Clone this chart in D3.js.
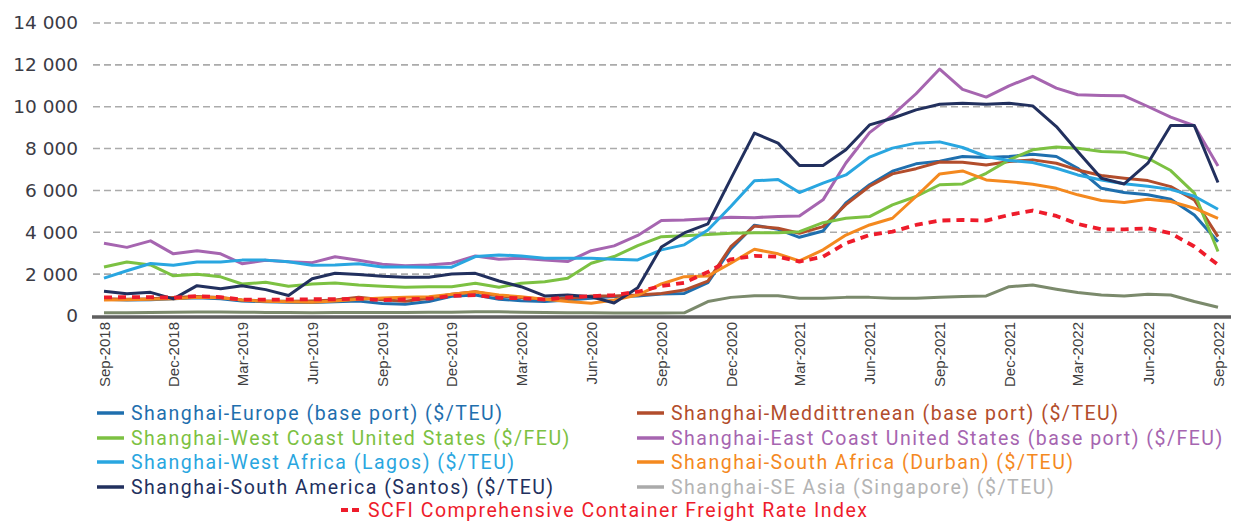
<!DOCTYPE html>
<html>
<head>
<meta charset="utf-8">
<script src="https://cdn.jsdelivr.net/npm/d3@7"></script>
<style>
  body { margin: 0; background: #fff; }
  svg { display: block; }
</style>
</head>
<body>
<div id="chart"></div>
<script>
// monthly, Sep-2018 .. Sep-2022
var months = d3.timeMonths(new Date(2018, 8, 1), new Date(2022, 9, 1));

var europe = [800,760,780,820,870,820,720,680,660,650,680,720,600,560,690,940,1000,800,730,690,770,850,930,960,1050,1080,1590,3190,4340,4140,3760,4060,5400,6270,6920,7270,7400,7620,7570,7620,7730,7620,7060,6100,5900,5790,5580,4830,3550];
var med = [820,800,820,880,930,880,760,720,700,720,760,900,780,700,850,1040,1160,960,880,800,850,960,960,1000,1080,1240,1670,3310,4300,4190,3950,4270,5320,6200,6790,7040,7360,7350,7220,7380,7460,7300,6980,6710,6580,6470,6180,5550,3790];
var westCoastUS = [2340,2580,2440,1920,2000,1870,1530,1610,1420,1530,1580,1480,1420,1370,1400,1400,1560,1370,1560,1640,1800,2520,2840,3360,3790,3830,3900,3950,3980,3980,4030,4460,4670,4750,5310,5710,6270,6310,6820,7460,7940,8070,8020,7860,7830,7540,6950,5870,3080];
var eastCoastUS = [3480,3280,3590,2970,3120,2970,2500,2660,2590,2550,2830,2660,2470,2400,2440,2520,2870,2710,2760,2680,2600,3120,3350,3850,4560,4590,4650,4720,4700,4760,4780,5550,7310,8760,9600,10620,11800,10830,10460,11000,11450,10890,10570,10540,10520,10010,9500,9090,7170];
var westAfrica = [1810,2160,2510,2420,2580,2580,2670,2670,2590,2420,2440,2500,2340,2340,2330,2330,2840,2920,2870,2760,2760,2760,2710,2680,3160,3400,4110,5230,6460,6520,5900,6350,6740,7590,8020,8260,8320,8050,7620,7430,7330,7060,6740,6500,6320,6200,6050,5720,5100];
var southAfrica = [760,780,800,830,900,870,760,700,680,660,720,800,860,890,925,1040,1160,1000,925,800,690,605,765,1000,1530,1880,1910,2520,3190,2970,2630,3160,3870,4350,4670,5710,6790,6930,6500,6420,6300,6100,5790,5520,5420,5580,5470,5150,4670];
var southAmerica = [1180,1060,1130,820,1450,1300,1450,1260,980,1780,2040,1980,1900,1850,1850,2010,2040,1670,1400,960,1000,920,620,1350,3300,3970,4400,6550,8740,8260,7190,7190,7940,9130,9450,9850,10120,10170,10120,10170,10040,9050,7860,6580,6310,7300,9100,9100,6380];
var seAsia = [150,160,170,180,190,190,180,170,170,160,170,170,170,170,180,180,200,200,180,170,160,150,140,140,140,150,690,890,970,970,850,850,890,890,850,850,890,930,960,1400,1480,1280,1120,1000,960,1040,1000,690,415];
var scfi = [890,900,900,880,950,900,780,780,790,800,800,830,760,800,830,960,1000,870,850,780,890,950,1000,1160,1430,1590,2100,2710,2870,2830,2600,2830,3480,3870,4030,4350,4560,4590,4560,4830,5040,4780,4400,4140,4140,4190,3950,3320,2450];

var seriesNames = [
  "Shanghai-Europe (base port) ($/TEU)",
  "Shanghai-Meddittrenean (base port) ($/TEU)",
  "Shanghai-West Coast United States ($/FEU)",
  "Shanghai-East Coast United States (base port) ($/FEU)",
  "Shanghai-West Africa (Lagos) ($/TEU)",
  "Shanghai-South Africa (Durban) ($/TEU)",
  "Shanghai-South America (Santos) ($/TEU)",
  "Shanghai-SE Asia (Singapore) ($/TEU)",
  "SCFI Comprehensive Container Freight Rate Index"
];
var seriesValues = [europe, med, westCoastUS, eastCoastUS, westAfrica, southAfrica, southAmerica, seAsia, scfi];
var lineColors = ["#1f6fae", "#b24d2c", "#7cc142", "#a665b0", "#29a6e0", "#f4891f", "#22305e", "#7b8a6c", "#ee1c2b"];
var legendColors = ["#1f6fae", "#b24d2c", "#7cc142", "#a665b0", "#29a6e0", "#f4891f", "#22305e", "#aaaaaa", "#ee1c2b"];
var legendTextColors = ["#1f6fae", "#b24d2c", "#7cc142", "#a665b0", "#29a6e0", "#f4891f", "#22305e", "#b4b4b4", "#ee1c2b"];

var yTicks = [0, 2000, 4000, 6000, 8000, 10000, 12000, 14000];

var width = 1235, height = 522;

var svg = d3.select("#chart").append("svg")
  .attr("width", width)
  .attr("height", height);

var x = d3.scaleTime()
  .domain([months[0], months[months.length - 1]])
  .range([104, 1218]);

var y = d3.scaleLinear().domain([0, 14000]).range([316, 23]);

var fmt = d3.formatLocale({ decimal: ".", thousands: " ", grouping: [3], currency: ["", ""] }).format(",");

// gridlines
svg.append("g")
  .selectAll("line")
  .data(yTicks.filter(function (d) { return d > 0; }))
  .enter()
  .append("line")
  .attr("x1", 93)
  .attr("x2", 1231)
  .attr("y1", function (d) { return y(d); })
  .attr("y2", function (d) { return y(d); })
  .style("stroke", "#ababab")
  .style("stroke-width", 1.6)
  .style("stroke-dasharray", "7,4");

// y labels
var yAxis = svg.append("g")
  .attr("transform", "translate(78,0)")
  .call(d3.axisLeft(y).tickValues(yTicks).tickFormat(fmt).tickSize(0).tickPadding(0));
yAxis.select(".domain").remove();
yAxis.selectAll("text")
  .style("font-family", "'DejaVu Sans', sans-serif")
  .style("font-size", "18.5px")
  .style("fill", "#3b3b45");

// baseline
svg.append("line")
  .attr("x1", 92).attr("x2", 1231)
  .attr("y1", y(0) + 1).attr("y2", y(0) + 1)
  .style("stroke", "#5f5f5f")
  .style("stroke-width", 3.5);

// x labels, every 3 months
var xTicks = months.filter(function (d, i) { return i % 3 == 0; });
var xAxis = svg.append("g")
  .attr("transform", "translate(0," + 322 + ")")
  .call(d3.axisBottom(x).tickValues(xTicks).tickFormat(d3.timeFormat("%b-%Y")).tickSize(0).tickPadding(0));
xAxis.select(".domain").remove();
xAxis.selectAll("text")
  .attr("transform", "rotate(-90)")
  .attr("x", 0)
  .attr("y", 0)
  .attr("dy", "0.35em")
  .style("text-anchor", "end")
  .style("font-family", "'Liberation Sans Narrow', 'Liberation Sans', sans-serif")
  .style("font-size", "15px")
  .style("fill", "#404040");

// lines
var line = d3.line()
  .x(function (d, i) { return x(months[i]); })
  .y(function (d) { return y(d); });

seriesValues.forEach(function (vals, k) {
  var p = svg.append("path")
    .datum(vals)
    .attr("d", line)
    .style("fill", "none")
    .style("stroke", lineColors[k])
    .style("stroke-width", k == 8 ? 3.8 : 3)
    .style("stroke-linejoin", "round");
  if (k == 8) p.style("stroke-dasharray", "8,6");
});

// legend
var legendPos = [
  [97, 413], [637, 413],
  [97, 438], [637, 438],
  [97, 462], [637, 462],
  [97, 487], [637, 487],
  [341, 510]
];
seriesNames.forEach(function (name, k) {
  var g = svg.append("g").attr("transform", "translate(" + legendPos[k][0] + "," + legendPos[k][1] + ")");
  var sw = g.append("line")
    .attr("x1", 0).attr("x2", k == 8 ? 22 : 27)
    .attr("y1", 0).attr("y2", 0)
    .style("stroke", legendColors[k])
    .style("stroke-width", 3.5);
  if (k == 8) sw.style("stroke-dasharray", "7,4").style("stroke-width", 4);
  g.append("text")
    .attr("x", k == 8 ? 27 : 34)
    .attr("y", 0)
    .attr("dy", "0.35em")
    .style("font-family", "Roboto, sans-serif")
    .style("font-size", "19.5px")
    .style("letter-spacing", "1.5px")
    .style("fill", legendTextColors[k])
    .text(name);
});
</script>
</body>
</html>
